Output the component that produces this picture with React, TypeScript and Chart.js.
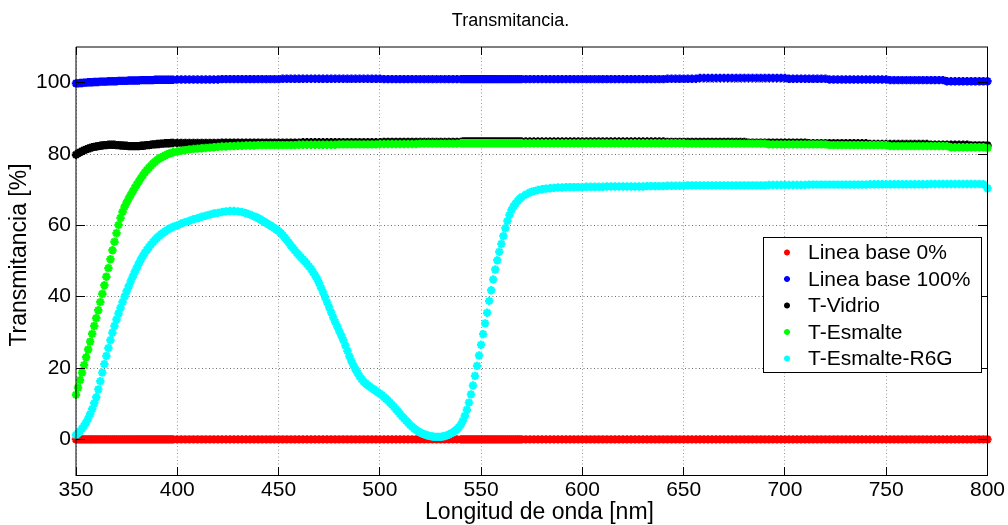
import React, { useEffect, useRef } from 'react';
import { Chart, registerables } from 'chart.js';

Chart.register(...registerables);

const TITLE = 'Transmitancia.';
const X_LABEL = 'Longitud de onda [nm]';
const Y_LABEL = 'Transmitancia [%]';
const X_TICKS = [350, 400, 450, 500, 550, 600, 650, 700, 750, 800];
const Y_TICKS = [0, 20, 40, 60, 80, 100];
const X_MIN = 350;
const X_MAX = 800;
const Y_MIN = -10;
const Y_MAX = 110;

const LABELS = ['Linea base 0%', 'Linea base 100%', 'T-Vidrio', 'T-Esmalte', 'T-Esmalte-R6G'];
const COLORS = ['#ff0000', '#0000ff', '#000000', '#00ff00', '#00ffff'];

// Sampling grids (nm): 1 nm steps where curves are steep, 2 nm elsewhere
function range(a: number, b: number, s: number): number[] {
  const r: number[] = [];
  for (let v = a; v <= b; v += s) r.push(v);
  return r;
}
const WAVELENGTH = [
  ...range(350, 398, 1),
  ...range(400, 540, 2),
  ...range(541, 570, 1),
  ...range(572, 800, 2),
];
const WAVELENGTH_R6G = [
  ...range(350, 398, 1),
  ...range(400, 438, 2),
  ...range(439, 570, 1),
  ...range(572, 800, 2),
];

const LINEA_0 = [
  // 350-398
  0, 0, 0, 0, 0, 0, 0, 0, 0, 0,
  0, 0, 0, 0, 0, 0, 0, 0, 0, 0,
  0, 0, 0, 0, 0, 0, 0, 0, 0, 0,
  0, 0, 0, 0, 0, 0, 0, 0, 0, 0,
  0, 0, 0, 0, 0, 0, 0, 0, 0,
  // 400-540
  0, 0, 0, 0, 0, 0, 0, 0, 0, 0,
  0, 0, 0, 0, 0, 0, 0, 0, 0, 0,
  0, 0, 0, 0, 0, 0, 0, 0, 0, 0,
  0, 0, 0, 0, 0, 0, 0, 0, 0, 0,
  0, 0, 0, 0, 0, 0, 0, 0, 0, 0,
  0, 0, 0, 0, 0, 0, 0, 0, 0, 0,
  0, 0, 0, 0, 0, 0, 0, 0, 0, 0,
  0,
  // 541-570
  0, 0, 0, 0, 0, 0, 0, 0, 0, 0,
  0, 0, 0, 0, 0, 0, 0, 0, 0, 0,
  0, 0, 0, 0, 0, 0, 0, 0, 0, 0,
  // 572-800
  0, 0, 0, 0, 0, 0, 0, 0, 0, 0,
  0, 0, 0, 0, 0, 0, 0, 0, 0, 0,
  0, 0, 0, 0, 0, 0, 0, 0, 0, 0,
  0, 0, 0, 0, 0, 0, 0, 0, 0, 0,
  0, 0, 0, 0, 0, 0, 0, 0, 0, 0,
  0, 0, 0, 0, 0, 0, 0, 0, 0, 0,
  0, 0, 0, 0, 0, 0, 0, 0, 0, 0,
  0, 0, 0, 0, 0, 0, 0, 0, 0, 0,
  0, 0, 0, 0, 0, 0, 0, 0, 0, 0,
  0, 0, 0, 0, 0, 0, 0, 0, 0, 0,
  0, 0, 0, 0, 0, 0, 0, 0, 0, 0,
  0, 0, 0, 0, 0,
];

const LINEA_100 = [
  // 350-398
  99.8, 99.8, 99.9, 99.9, 100.0, 100.0, 100.1, 100.1, 100.1, 100.2,
  100.2, 100.2, 100.3, 100.3, 100.3, 100.3, 100.4, 100.4, 100.4, 100.4,
  100.4, 100.5, 100.5, 100.5, 100.5, 100.5, 100.6, 100.6, 100.6, 100.6,
  100.6, 100.6, 100.7, 100.7, 100.7, 100.7, 100.7, 100.7, 100.7, 100.8,
  100.8, 100.8, 100.8, 100.8, 100.8, 100.8, 100.8, 100.8, 100.8,
  // 400-540
  100.9, 100.9, 100.9, 100.9, 100.9, 100.9, 100.9, 100.9, 100.9, 100.9,
  100.9, 101.0, 101.0, 101.0, 101.0, 101.0, 101.0, 101.0, 101.0, 101.0,
  101.0, 101.0, 101.0, 101.0, 101.0, 101.0, 101.1, 101.1, 101.1, 101.1,
  101.1, 101.1, 101.1, 101.1, 101.1, 101.1, 101.1, 101.1, 101.1, 101.1,
  101.1, 101.1, 101.1, 101.1, 101.1, 101.1, 101.1, 101.1, 101.1, 101.1,
  101.1, 101.0, 101.0, 101.0, 101.0, 101.0, 101.0, 101.0, 101.0, 101.0,
  101.0, 101.0, 101.0, 101.0, 101.0, 101.0, 101.0, 101.0, 101.0, 101.0,
  101.0,
  // 541-570
  101.0, 101.0, 101.0, 101.0, 101.0, 101.0, 101.0, 101.0, 101.0, 101.0,
  101.0, 101.0, 101.0, 101.0, 101.0, 101.0, 101.0, 101.0, 101.0, 101.0,
  101.0, 101.0, 101.0, 101.0, 101.0, 101.0, 101.0, 101.0, 101.0, 101.0,
  // 572-800
  101.0, 101.0, 101.0, 101.0, 101.0, 101.0, 101.0, 101.0, 101.0, 101.0,
  101.0, 101.0, 101.0, 101.0, 101.0, 101.0, 101.0, 101.0, 101.0, 101.0,
  101.0, 101.0, 101.0, 101.0, 101.0, 101.0, 101.0, 101.0, 101.0, 101.0,
  101.0, 101.0, 101.0, 101.0, 101.0, 101.1, 101.1, 101.1, 101.1, 101.1,
  101.1, 101.1, 101.1, 101.3, 101.3, 101.3, 101.3, 101.3, 101.3, 101.3,
  101.3, 101.3, 101.3, 101.3, 101.3, 101.3, 101.3, 101.3, 101.3, 101.3,
  101.3, 101.3, 101.3, 101.3, 101.3, 101.1, 101.1, 101.1, 101.1, 101.1,
  101.1, 101.1, 101.1, 101.1, 101.1, 100.9, 100.9, 100.9, 100.9, 100.9,
  100.9, 100.9, 100.9, 100.9, 100.9, 100.9, 100.9, 100.9, 100.9, 100.9,
  100.7, 100.7, 100.7, 100.7, 100.7, 100.7, 100.7, 100.7, 100.7, 100.7,
  100.7, 100.7, 100.7, 100.7, 100.4, 100.4, 100.4, 100.4, 100.4, 100.4,
  100.4, 100.4, 100.4, 100.4, 100.4,
];

const T_VIDRIO = [
  // 350-398
  79.8, 80.2, 80.5, 80.8, 81.1, 81.3, 81.5, 81.7, 81.9, 82.0,
  82.1, 82.2, 82.3, 82.4, 82.5, 82.5, 82.6, 82.6, 82.6, 82.6,
  82.5, 82.5, 82.4, 82.4, 82.3, 82.3, 82.2, 82.2, 82.2, 82.2,
  82.2, 82.2, 82.3, 82.3, 82.4, 82.5, 82.5, 82.6, 82.7, 82.7,
  82.8, 82.8, 82.9, 82.9, 83.0, 83.0, 83.0, 83.1, 83.1,
  // 400-540
  83.1, 83.1, 83.1, 83.1, 83.1, 83.1, 83.1, 83.1, 83.1, 83.1,
  83.1, 83.2, 83.2, 83.2, 83.2, 83.2, 83.2, 83.2, 83.2, 83.2,
  83.2, 83.2, 83.2, 83.2, 83.2, 83.2, 83.2, 83.2, 83.2, 83.2,
  83.2, 83.3, 83.3, 83.3, 83.3, 83.3, 83.3, 83.3, 83.3, 83.3,
  83.3, 83.3, 83.3, 83.3, 83.3, 83.3, 83.3, 83.3, 83.3, 83.3,
  83.3, 83.4, 83.4, 83.4, 83.4, 83.4, 83.4, 83.4, 83.4, 83.4,
  83.4, 83.4, 83.4, 83.4, 83.4, 83.4, 83.4, 83.4, 83.4, 83.4,
  83.4,
  // 541-570
  83.5, 83.5, 83.5, 83.5, 83.5, 83.5, 83.5, 83.5, 83.5, 83.5,
  83.5, 83.5, 83.5, 83.5, 83.5, 83.5, 83.5, 83.5, 83.5, 83.5,
  83.5, 83.5, 83.5, 83.5, 83.5, 83.5, 83.5, 83.5, 83.5, 83.5,
  // 572-800
  83.5, 83.5, 83.5, 83.5, 83.5, 83.5, 83.5, 83.5, 83.5, 83.5,
  83.5, 83.5, 83.5, 83.5, 83.5, 83.5, 83.5, 83.5, 83.5, 83.5,
  83.5, 83.5, 83.5, 83.5, 83.5, 83.5, 83.5, 83.5, 83.5, 83.5,
  83.5, 83.5, 83.5, 83.5, 83.5, 83.4, 83.4, 83.4, 83.4, 83.4,
  83.4, 83.4, 83.4, 83.4, 83.4, 83.4, 83.4, 83.4, 83.4, 83.4,
  83.4, 83.4, 83.4, 83.4, 83.4, 83.2, 83.2, 83.2, 83.2, 83.2,
  83.2, 83.2, 83.2, 83.2, 83.2, 83.2, 83.2, 83.2, 83.2, 83.2,
  83.0, 83.0, 83.0, 83.0, 83.0, 83.0, 83.0, 83.0, 83.0, 83.0,
  83.0, 83.0, 83.0, 83.0, 83.0, 82.8, 82.8, 82.8, 82.8, 82.8,
  82.8, 82.8, 82.8, 82.8, 82.8, 82.8, 82.8, 82.8, 82.8, 82.8,
  82.6, 82.6, 82.6, 82.6, 82.6, 82.6, 82.6, 82.6, 82.6, 82.6,
  82.4, 82.4, 82.4, 82.4, 82.4,
];

const T_ESMALTE = [
  // 350-398
  12.5, 14.5, 16.6, 18.7, 20.8, 23.0, 25.2, 27.4, 29.6, 31.8,
  34.0, 36.2, 38.5, 40.8, 43.2, 45.6, 48.0, 50.5, 53.0, 55.4,
  57.8, 60.1, 62.1, 63.8, 65.2, 66.4, 67.5, 68.5, 69.5, 70.5,
  71.4, 72.3, 73.2, 74.0, 74.8, 75.5, 76.1, 76.7, 77.3, 77.8,
  78.3, 78.7, 79.0, 79.3, 79.6, 79.9, 80.1, 80.3, 80.5,
  // 400-540
  80.7, 80.9, 81.1, 81.3, 81.4, 81.5, 81.6, 81.7, 81.8, 81.9,
  82.0, 82.1, 82.1, 82.2, 82.2, 82.3, 82.3, 82.4, 82.4, 82.4,
  82.5, 82.5, 82.5, 82.5, 82.5, 82.5, 82.5, 82.5, 82.5, 82.5,
  82.6, 82.6, 82.6, 82.6, 82.6, 82.6, 82.6, 82.6, 82.6, 82.6,
  82.7, 82.7, 82.7, 82.7, 82.7, 82.7, 82.7, 82.7, 82.7, 82.7,
  82.8, 82.8, 82.8, 82.8, 82.8, 82.8, 82.8, 82.8, 82.8, 82.8,
  82.9, 82.9, 82.9, 82.9, 82.9, 82.9, 82.9, 82.9, 82.9, 82.9,
  83.0,
  // 541-570
  83.0, 83.0, 83.0, 83.0, 83.0, 83.0, 83.0, 83.0, 83.0, 83.0,
  83.0, 83.0, 83.0, 83.0, 83.0, 83.0, 83.0, 83.0, 83.0, 83.0,
  83.0, 83.0, 83.0, 83.0, 83.0, 83.0, 83.0, 83.0, 83.0, 83.0,
  // 572-800
  83.0, 83.0, 83.0, 83.0, 83.0, 83.0, 83.0, 83.0, 83.0, 83.0,
  83.0, 83.0, 83.0, 83.0, 83.0, 83.0, 83.0, 83.0, 83.0, 83.0,
  83.0, 83.0, 83.0, 83.0, 83.0, 83.0, 83.0, 83.0, 83.0, 83.0,
  83.0, 83.0, 83.0, 83.0, 83.0, 83.0, 83.0, 83.0, 83.0, 83.0,
  82.9, 82.9, 82.9, 82.9, 82.9, 82.9, 82.9, 82.9, 82.9, 82.9,
  82.9, 82.9, 82.9, 82.9, 82.9, 82.9, 82.9, 82.9, 82.9, 82.9,
  82.7, 82.7, 82.7, 82.7, 82.7, 82.7, 82.7, 82.7, 82.7, 82.7,
  82.7, 82.7, 82.7, 82.7, 82.7, 82.5, 82.5, 82.5, 82.5, 82.5,
  82.5, 82.5, 82.5, 82.5, 82.5, 82.5, 82.5, 82.5, 82.5, 82.5,
  82.2, 82.2, 82.2, 82.2, 82.2, 82.2, 82.2, 82.2, 82.2, 82.2,
  82.2, 82.2, 82.2, 82.2, 82.2, 81.9, 81.9, 81.9, 81.9, 81.9,
  81.9, 81.9, 81.9, 81.9, 81.7,
];

// on WAVELENGTH_R6G
const T_ESMALTE_R6G = [
  // 350-398
  1.2, 1.7, 2.3, 3.0, 3.8, 4.7, 5.8, 7.1, 8.5, 10.1,
  11.8, 14.0, 16.3, 18.7, 21.1, 23.4, 25.6, 27.8, 29.9, 31.8,
  33.6, 35.3, 36.9, 38.5, 40.0, 41.5, 42.9, 44.3, 45.6, 46.9,
  48.1, 49.3, 50.4, 51.4, 52.3, 53.1, 53.9, 54.6, 55.3, 55.9,
  56.5, 57.0, 57.5, 57.9, 58.3, 58.7, 59.0, 59.3, 59.6,
  // 400-438 (2 nm)
  60.0, 60.5, 60.9, 61.3, 61.7, 62.0, 62.4, 62.7, 63.0, 63.3,
  63.5, 63.7, 63.9, 64.0, 64.0, 63.9, 63.7, 63.4, 63.0, 62.5,
  // 439-540 (1 nm)
  62.3,
  62.0, 61.7, 61.3, 61.0, 60.6, 60.3, 59.9, 59.6, 59.2, 58.8,
  58.4, 57.9, 57.3, 56.6, 55.9, 55.2, 54.4, 53.7, 53.0, 52.3,
  51.7, 51.1, 50.5, 49.9, 49.2, 48.5, 47.8, 46.9, 46.0, 45.0,
  43.8, 42.5, 41.2, 39.8, 38.4, 37.0, 35.6, 34.2, 32.9, 31.6,
  30.3, 29.1, 27.8, 26.3, 24.8, 23.3, 21.9, 20.7, 19.6, 18.6,
  17.7, 16.9, 16.2, 15.7, 15.2, 14.8, 14.4, 14.0, 13.6, 13.2,
  12.8, 12.4, 11.9, 11.4, 10.9, 10.3, 9.7, 9.1, 8.4, 7.8,
  7.1, 6.4, 5.8, 5.2, 4.6, 4.0, 3.5, 3.0, 2.6, 2.2,
  1.9, 1.6, 1.4, 1.2, 1.0, 0.9, 0.8, 0.7, 0.7, 0.7,
  0.7, 0.8, 0.9, 1.1, 1.3, 1.6, 1.9, 2.3, 2.8, 3.4,
  4.1,
  // 541-570
  5.2, 6.6, 8.3, 10.3, 12.6, 15.1, 17.8, 20.6, 23.5, 26.5,
  29.5, 32.5, 35.5, 38.8, 41.8, 44.8, 47.6, 50.2, 52.6, 54.8,
  57.0, 59.2, 61.2, 62.9, 64.3, 65.3, 66.1, 66.8, 67.4, 67.9,
  // 572-800
  68.6, 69.2, 69.6, 69.9, 70.1, 70.3, 70.4, 70.5, 70.6, 70.6,
  70.7, 70.7, 70.7, 70.7, 70.7, 70.8, 70.8, 70.8, 70.8, 70.8,
  70.9, 70.9, 70.9, 70.9, 70.9, 70.9, 70.9, 70.9, 70.9, 70.9,
  71.0, 71.0, 71.0, 71.0, 71.0, 71.1, 71.1, 71.1, 71.1, 71.1,
  71.2, 71.2, 71.2, 71.2, 71.2, 71.2, 71.2, 71.2, 71.2, 71.2,
  71.2, 71.2, 71.2, 71.2, 71.2, 71.2, 71.2, 71.2, 71.2, 71.2,
  71.3, 71.3, 71.3, 71.3, 71.3, 71.3, 71.3, 71.3, 71.3, 71.3,
  71.4, 71.4, 71.4, 71.4, 71.4, 71.4, 71.4, 71.4, 71.4, 71.4,
  71.4, 71.4, 71.4, 71.4, 71.4, 71.5, 71.5, 71.5, 71.5, 71.5,
  71.5, 71.5, 71.5, 71.5, 71.5, 71.5, 71.5, 71.5, 71.5, 71.5,
  71.6, 71.6, 71.6, 71.6, 71.6, 71.6, 71.6, 71.6, 71.6, 71.6,
  71.6, 71.6, 71.6, 71.5, 70.4,
];

const SERIES = [LINEA_0, LINEA_100, T_VIDRIO, T_ESMALTE, T_ESMALTE_R6G];
const GRIDS = [WAVELENGTH, WAVELENGTH, WAVELENGTH, WAVELENGTH, WAVELENGTH_R6G];

const FONT = '"Liberation Sans", Arial, Helvetica, sans-serif';

function drawStar(ctx: CanvasRenderingContext2D, x: number, y: number, r: number) {
  const d = r * 0.72;
  ctx.moveTo(x - r, y); ctx.lineTo(x + r, y);
  ctx.moveTo(x, y - r); ctx.lineTo(x, y + r);
  ctx.moveTo(x - d, y - d); ctx.lineTo(x + d, y + d);
  ctx.moveTo(x - d, y + d); ctx.lineTo(x + d, y - d);
}

const decorPlugin = {
  id: 'decor',
  afterDatasetsDraw(chart: any) {
    const { ctx, chartArea: a, scales } = chart;
    const L = Math.round(a.left);
    const R = Math.round(a.right);
    const T = Math.round(a.top);
    const B = Math.round(a.bottom);
    const al = (p: number) => Math.round(p - 0.5) + 0.5;
    ctx.save();
    ctx.setLineDash([]);
    ctx.lineWidth = 1;
    ctx.strokeStyle = '#000';
    // inward tick marks on all four sides
    ctx.beginPath();
    X_TICKS.forEach((v) => {
      const x = al(scales.x.getPixelForValue(v));
      ctx.moveTo(x, B); ctx.lineTo(x, B - 8);
      ctx.moveTo(x, T); ctx.lineTo(x, T + 8);
    });
    Y_TICKS.forEach((v) => {
      const y = al(scales.y.getPixelForValue(v));
      ctx.moveTo(L, y); ctx.lineTo(L + 9, y);
      ctx.moveTo(R, y); ctx.lineTo(R - 9, y);
    });
    ctx.stroke();
    // frame: left & top soft, right & bottom crisp
    ctx.beginPath();
    ctx.moveTo(L, T); ctx.lineTo(R + 1, T);
    ctx.moveTo(L, T); ctx.lineTo(L, B + 1);
    ctx.stroke();
    ctx.beginPath();
    ctx.moveTo(L, B + 0.5); ctx.lineTo(R + 1, B + 0.5);
    ctx.moveTo(R + 0.5, T); ctx.lineTo(R + 0.5, B + 1);
    ctx.stroke();

    // legend box
    const bx = R - 224;
    const by = T + 190;
    const bw = 218;
    const bh = 135;
    ctx.fillStyle = '#fff';
    ctx.fillRect(bx, by, bw, bh);
    ctx.strokeStyle = '#000';
    ctx.lineWidth = 1;
    ctx.strokeRect(bx + 0.5, by + 0.5, bw, bh);
    ctx.font = `21px ${FONT}`;
    ctx.textAlign = 'left';
    ctx.textBaseline = 'middle';
    LABELS.forEach((lab, i) => {
      const y = by + 15.5 + 26.5 * i;
      ctx.beginPath();
      ctx.strokeStyle = COLORS[i];
      ctx.lineWidth = 1.8;
      drawStar(ctx, bx + 24, y, 3);
      ctx.stroke();
      ctx.fillStyle = '#000';
      ctx.fillText(lab, bx + 45, y + 1);
    });

    // title and axis titles
    ctx.fillStyle = '#000';
    ctx.textAlign = 'center';
    ctx.textBaseline = 'middle';
    ctx.font = `18px ${FONT}`;
    ctx.fillText(TITLE, (L + R) / 2 - 21, T - 26);
    ctx.font = `23px ${FONT}`;
    ctx.fillText(X_LABEL, (L + R) / 2 + 8, B + 38);
    ctx.save();
    ctx.translate(L - 56, (T + B) / 2 - 6);
    ctx.rotate(-Math.PI / 2);
    ctx.fillText(Y_LABEL, 0, 0);
    ctx.restore();
    ctx.restore();
  },
};

export default function App() {
  const ref = useRef<HTMLCanvasElement | null>(null);

  useEffect(() => {
    const canvas = ref.current;
    if (!canvas) return;
    const chart = new Chart(canvas, {
      type: 'scatter',
      data: {
        datasets: SERIES.map((vals, i) => ({
          label: LABELS[i],
          data: GRIDS[i].map((x, j) => ({ x, y: vals[j] })),
          showLine: false,
          pointStyle: 'star',
          pointRadius: 4.2,
          pointBorderWidth: 2.4,
          pointBorderColor: COLORS[i],
          pointBackgroundColor: COLORS[i],
          borderColor: COLORS[i],
          backgroundColor: COLORS[i],
          order: SERIES.length - 1 - i,
          clip: false,
        })),
      },
      options: {
        responsive: false,
        animation: false,
        events: [],
        layout: { padding: { left: 0, right: 20, top: 47, bottom: 0 } },
        plugins: {
          legend: { display: false },
          tooltip: { enabled: false },
          title: { display: false },
        },
        scales: {
          x: {
            type: 'linear',
            min: X_MIN,
            max: X_MAX,
            afterBuildTicks: (s: any) => { s.ticks = X_TICKS.map((v) => ({ value: v })); },
            afterFit: (s: any) => { s.height = 50; },
            ticks: { font: { family: FONT, size: 21 }, color: '#000', padding: 3, maxRotation: 0, autoSkip: false },
            grid: { color: '#9a9a9a', lineWidth: 1, drawTicks: false },
            border: { display: false, dash: [1, 2.5] },
          },
          y: {
            type: 'linear',
            min: Y_MIN,
            max: Y_MAX,
            afterBuildTicks: (s: any) => { s.ticks = Y_TICKS.map((v) => ({ value: v })); },
            afterFit: (s: any) => { s.width = 76; },
            ticks: { font: { family: FONT, size: 21 }, color: '#000', padding: 5 },
            grid: { color: '#6e6e6e', lineWidth: 1, drawTicks: false },
            border: { display: false, dash: [1, 2.5] },
          },
        },
      } as any,
      plugins: [decorPlugin],
    });
    return () => chart.destroy();
  }, []);

  return (
    <div style={{ position: 'fixed', left: 0, top: 0, width: 1008, height: 525, background: '#fff' }}>
      <canvas ref={ref} width={1008} height={525} style={{ display: 'block', width: 1008, height: 525 }} />
    </div>
  );
}
